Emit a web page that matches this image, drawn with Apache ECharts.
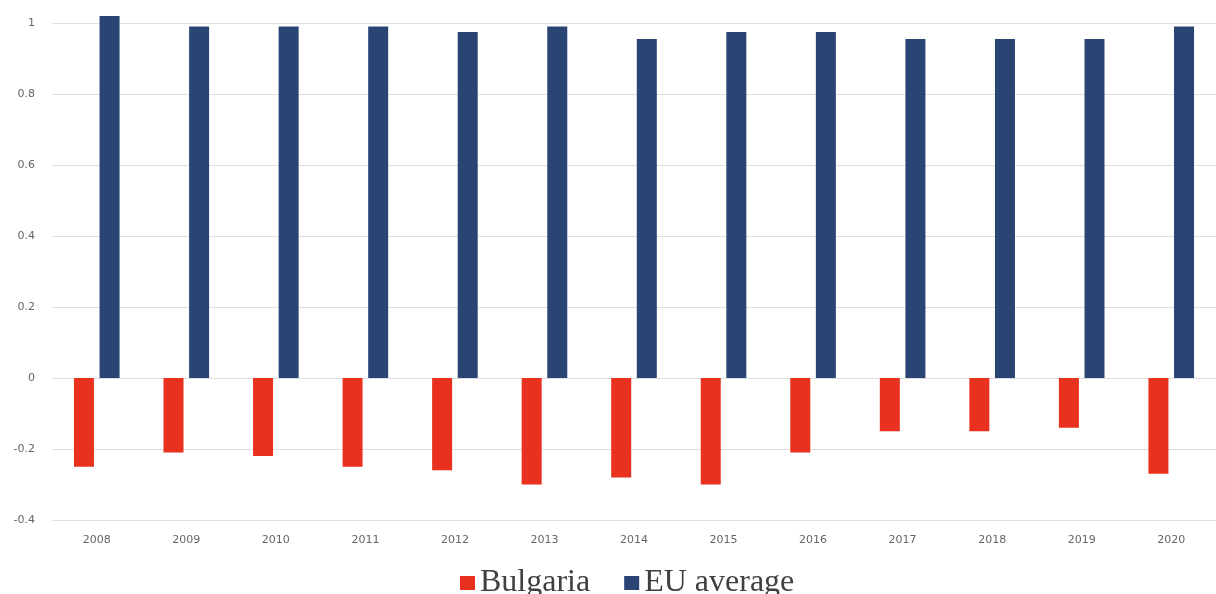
<!DOCTYPE html>
<html>
<head>
<meta charset="utf-8">
<script src="https://cdn.jsdelivr.net/npm/echarts@6/dist/echarts.min.js"></script>
<style>html,body{margin:0;padding:0;background:#fff}#c{width:1216px;height:594px}</style>
</head>
<body>
<div id="c"></div>
<script>
const years = ['2008','2009','2010','2011','2012','2013','2014','2015','2016','2017','2018','2019','2020'];
const bulgaria = [-0.25,-0.21,-0.22,-0.25,-0.26,-0.30,-0.28,-0.30,-0.21,-0.15,-0.15,-0.14,-0.27];
const euAverage = [1.02,0.99,0.99,0.99,0.975,0.99,0.955,0.975,0.975,0.955,0.955,0.955,0.99];

const chart = echarts.init(document.getElementById('c'));
chart.setOption({
  animation: false,
  backgroundColor: '#ffffff',
  grid: { left: 52, top: 23, width: 1173, bottom: 74, containLabel: false },
  legend: {
    top: 562, left: 455,
    itemWidth: 15, itemHeight: 14, itemGap: 34,
    icon: 'rect',
    textStyle: { fontFamily: 'Liberation Serif', fontSize: 32, color: '#404040', padding: [0, 0, 0, 0] },
    data: ['Bulgaria', 'EU average']
  },
  xAxis: {
    type: 'category', data: years,
    axisLine: { show: false, onZero: false },
    axisTick: { show: false },
    axisLabel: { color: '#666666', fontSize: 11, margin: 15, fontFamily: 'DejaVu Sans' }
  },
  yAxis: {
    type: 'value', min: -0.4, max: 1, interval: 0.2,
    axisLine: { show: false }, axisTick: { show: false },
    splitLine: { lineStyle: { color: '#dedede', width: 1 } },
    axisLabel: { color: '#666666', fontSize: 11, margin: 17, fontFamily: 'DejaVu Sans' }
  },
  series: [
    { name: 'Bulgaria', type: 'bar', data: bulgaria, barWidth: 20, barGap: '28%', clip: false,
      itemStyle: { color: '#e8311e' } },
    { name: 'EU average', type: 'bar', data: euAverage, barWidth: 20, clip: false,
      itemStyle: { color: '#2a4474' } }
  ]
});
</script>
</body>
</html>
